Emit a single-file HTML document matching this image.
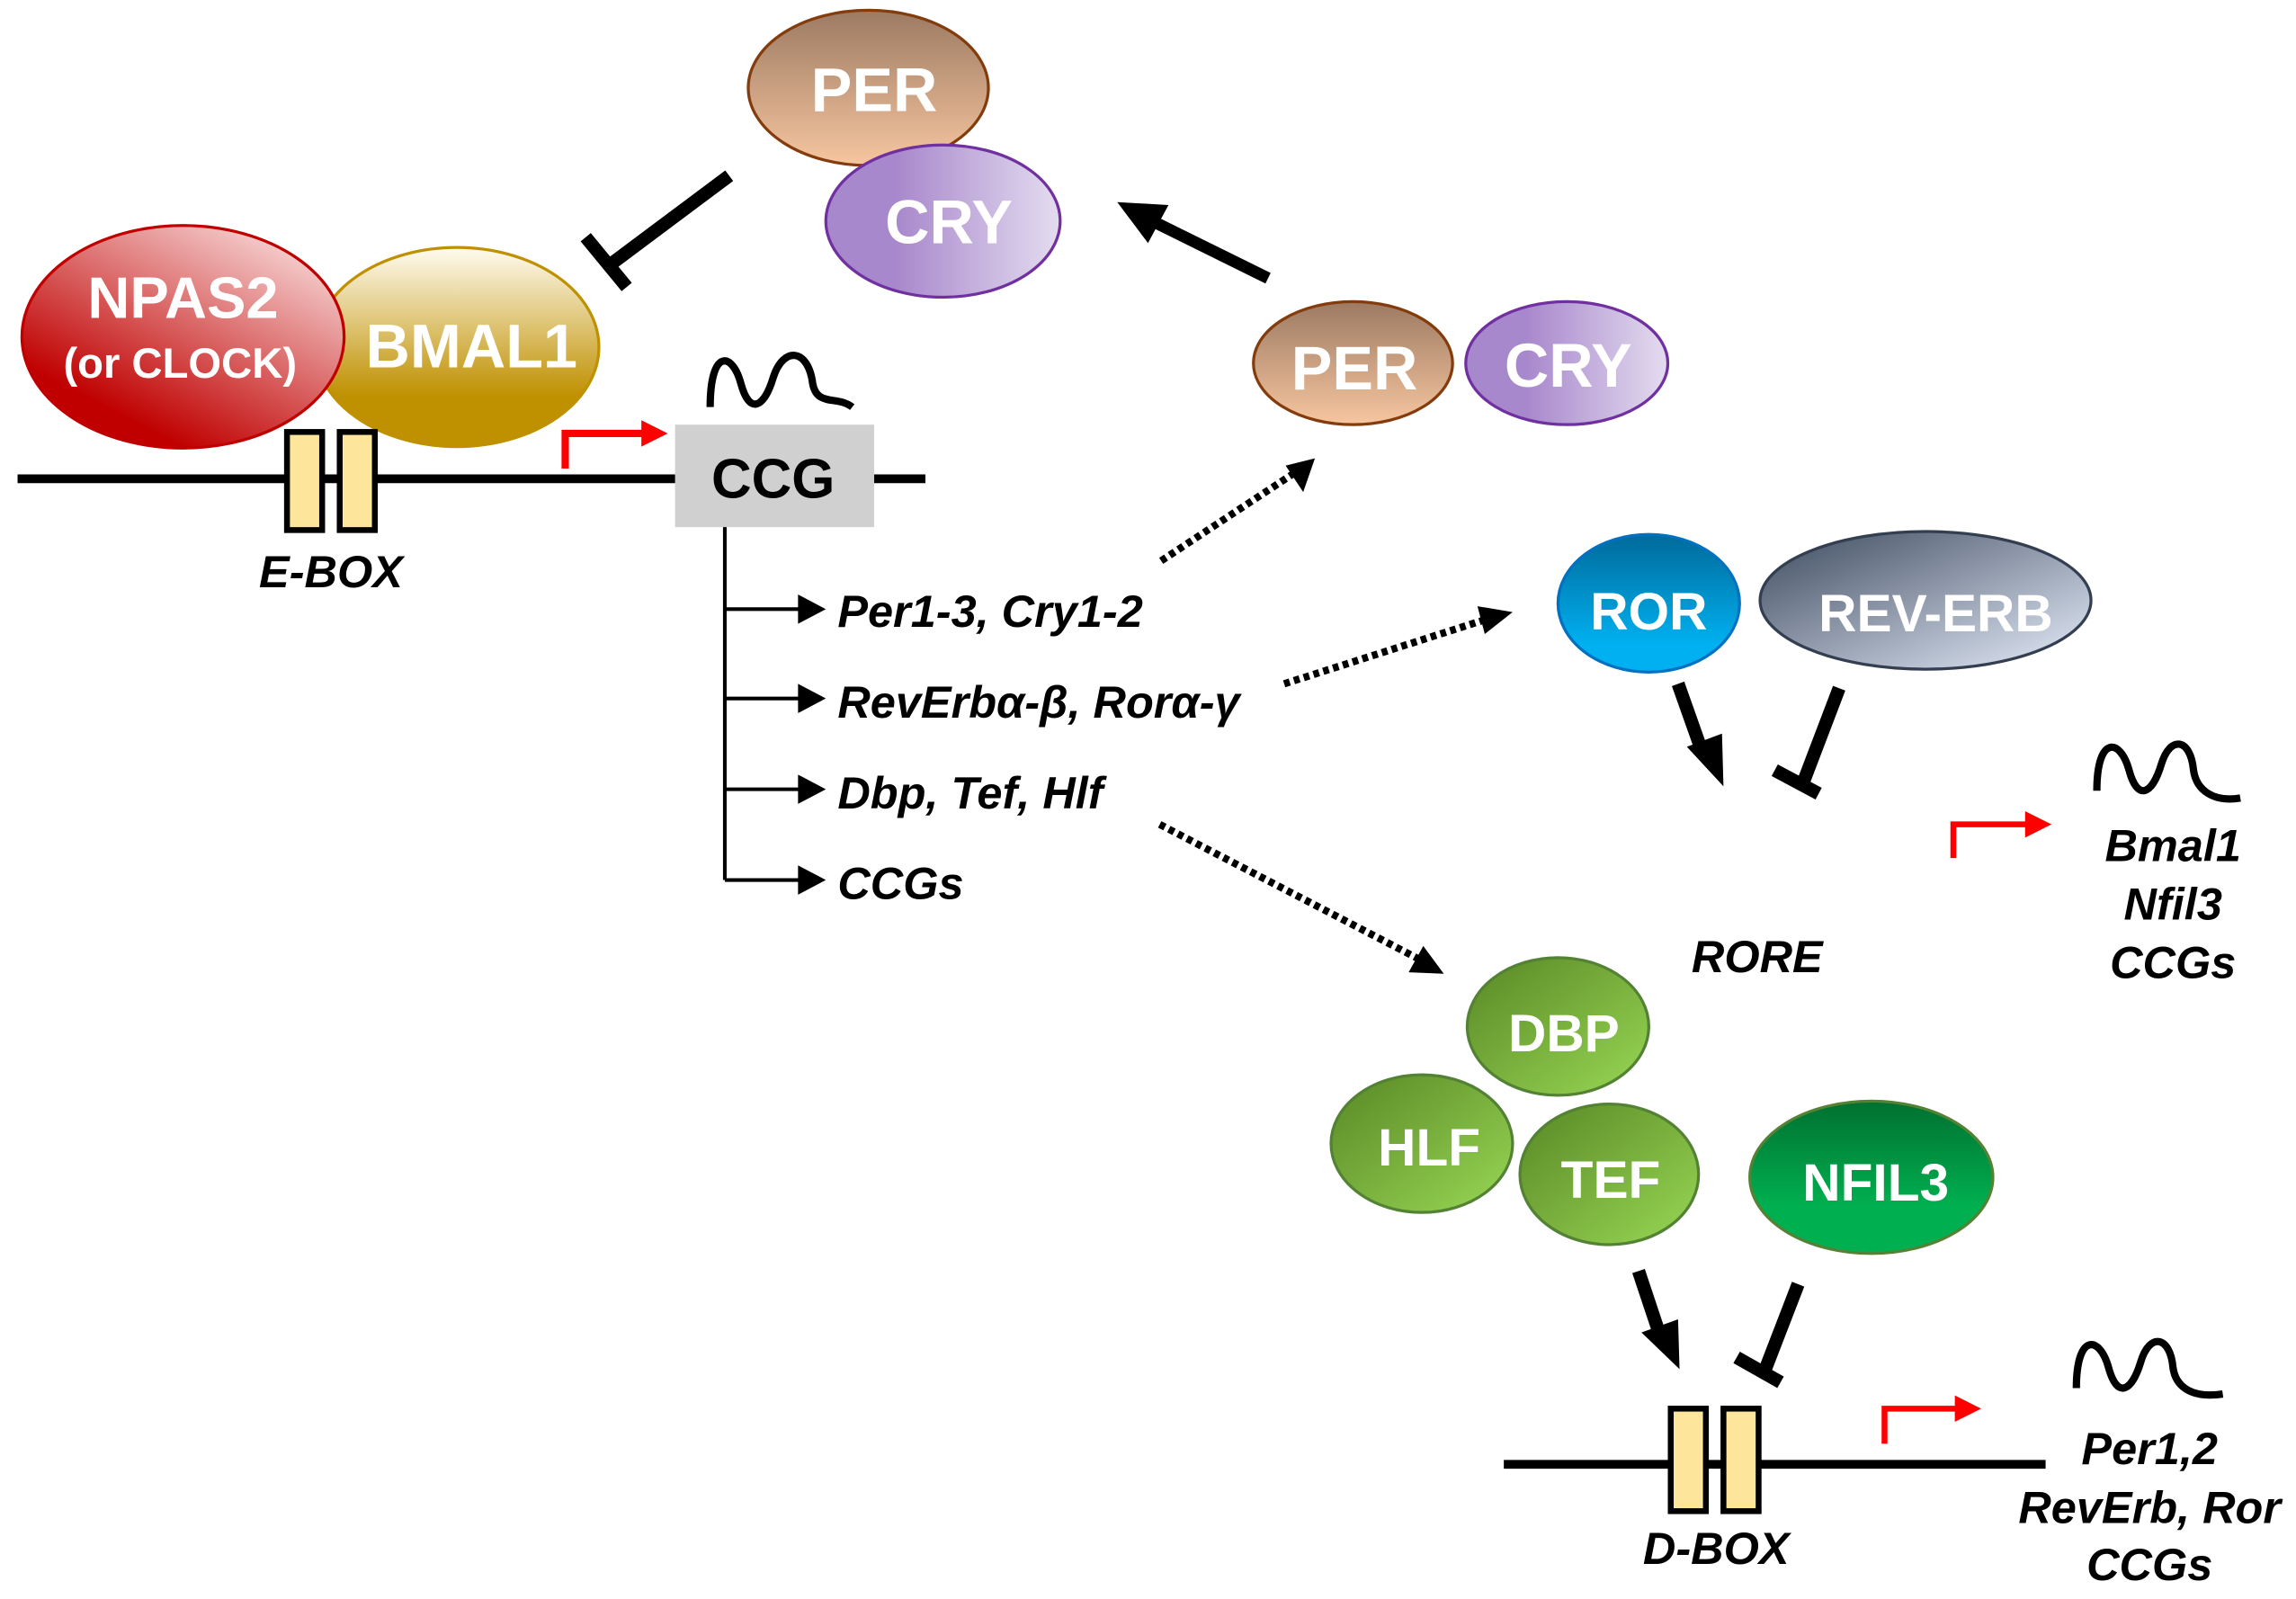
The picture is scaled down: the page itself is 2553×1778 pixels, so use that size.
<!DOCTYPE html>
<html><head><meta charset="utf-8"><style>
html,body{margin:0;padding:0;background:#fff}
svg{display:block}
text{font-family:"Liberation Sans",Arial,sans-serif;font-weight:bold}
.w{fill:#fff;text-anchor:middle}
.i{font-style:italic;fill:#000}
</style></head><body>
<svg width="2553" height="1778" viewBox="0 0 1568 1092" preserveAspectRatio="none" xmlns="http://www.w3.org/2000/svg">
<defs>
<linearGradient id="gPer" x1="0" y1="0" x2="0" y2="1"><stop offset="0" stop-color="#9c7a62"/><stop offset="1" stop-color="#f7c6a0"/></linearGradient>
<linearGradient id="gCry" x1="0" y1="0" x2="1" y2="0"><stop offset="0.3" stop-color="#a888cc"/><stop offset="1" stop-color="#e4dcf0"/></linearGradient>
<linearGradient id="gNp" x1="0.2" y1="0.9" x2="0.8" y2="0.1"><stop offset="0.1" stop-color="#c00000"/><stop offset="1" stop-color="#f4c8c8"/></linearGradient>
<linearGradient id="gBm" x1="0" y1="0" x2="0" y2="1"><stop offset="0" stop-color="#fffbf0"/><stop offset="0.75" stop-color="#bf9000"/></linearGradient>
<linearGradient id="gRor" x1="0" y1="0" x2="0" y2="1"><stop offset="0" stop-color="#006a9a"/><stop offset="0.8" stop-color="#00b0f0"/></linearGradient>
<linearGradient id="gRev" x1="0.1" y1="0.1" x2="0.9" y2="0.9"><stop offset="0" stop-color="#4e5a6e"/><stop offset="1" stop-color="#d6deec"/></linearGradient>
<linearGradient id="gGr" x1="0.1" y1="0.1" x2="0.9" y2="0.9"><stop offset="0" stop-color="#5f8f2a"/><stop offset="1" stop-color="#92d050"/></linearGradient>
<linearGradient id="gNf" x1="0" y1="0" x2="0" y2="1"><stop offset="0" stop-color="#007030"/><stop offset="0.7" stop-color="#00b050"/></linearGradient>
</defs>

<ellipse cx="593" cy="60" rx="82" ry="53" fill="url(#gPer)" stroke="#843c0c" stroke-width="2"/>
<text class="w" x="597" y="76" font-size="42">PER</text>
<ellipse cx="644" cy="151" rx="80" ry="52" fill="url(#gCry)" stroke="#7030a0" stroke-width="2"/>
<text class="w" x="648" y="166" font-size="42">CRY</text>

<line x1="498" y1="120" x2="415" y2="182" stroke="#000" stroke-width="9"/>
<line x1="400" y1="162" x2="428" y2="196" stroke="#000" stroke-width="9"/>

<ellipse cx="312" cy="237" rx="97" ry="68" fill="url(#gBm)" stroke="#bf9000" stroke-width="2"/>
<text class="w" x="322" y="251" font-size="42">BMAL1</text>
<ellipse cx="125" cy="230" rx="110" ry="76" fill="url(#gNp)" stroke="#c00000" stroke-width="2"/>
<text class="w" x="125" y="217" font-size="40">NPAS2</text>
<text class="w" x="123" y="258" font-size="29">(or CLOCK)</text>

<line x1="12" y1="327" x2="632" y2="327" stroke="#000" stroke-width="6"/>
<rect x="196" y="295" width="24" height="67" fill="#fde59c" stroke="#000" stroke-width="4"/>
<rect x="232" y="295" width="24" height="67" fill="#fde59c" stroke="#000" stroke-width="4"/>
<text class="i" x="226" y="401" font-size="31" text-anchor="middle">E-BOX</text>
<path d="M386,320 V296 H440" fill="none" stroke="#ff0000" stroke-width="5"/>
<path d="M438,287 L456,296 L438,305z" fill="#ff0000"/>
<rect x="461" y="290" width="136" height="70" fill="#d0d0d0"/>
<text x="528" y="340" font-size="38" text-anchor="middle" fill="#000">CCG</text>
<path d="M485,278 C485,238 500,240 506,262 C512,284 522,278 528,258 C535,236 552,238 555,262 C558,278 572,270 582,278" fill="none" stroke="#000" stroke-width="5"/>

<path d="M495,360 V601" stroke="#000" stroke-width="2.5" fill="none"/>
<g stroke="#000" stroke-width="2.5">
<line x1="495" y1="416" x2="548" y2="416"/><line x1="495" y1="477" x2="548" y2="477"/>
<line x1="495" y1="539" x2="548" y2="539"/><line x1="495" y1="601" x2="548" y2="601"/>
</g>
<g fill="#000">
<path d="M545,406 L564,416 L545,426z"/><path d="M545,467 L564,477 L545,487z"/>
<path d="M545,529 L564,539 L545,549z"/><path d="M545,591 L564,601 L545,611z"/>
</g>
<text class="i" x="572" y="428" font-size="31">Per1-3, Cry1-2</text>
<text class="i" x="572" y="490" font-size="31">RevErbα-β, Rorα-γ</text>
<text class="i" x="572" y="552" font-size="31">Dbp, Tef, Hlf</text>
<text class="i" x="572" y="614" font-size="31">CCGs</text>

<line x1="866" y1="190" x2="785" y2="150" stroke="#000" stroke-width="8"/>
<path d="M763,138 L798,140 L784,166z" fill="#000"/>

<ellipse cx="924" cy="248" rx="68" ry="42" fill="url(#gPer)" stroke="#843c0c" stroke-width="2"/>
<text class="w" x="925" y="266" font-size="42">PER</text>
<ellipse cx="1070" cy="248" rx="69" ry="42" fill="url(#gCry)" stroke="#7030a0" stroke-width="2"/>
<text class="w" x="1071" y="264" font-size="42">CRY</text>

<g stroke="#000" stroke-width="5" stroke-dasharray="4,3" fill="none">
<line x1="793" y1="383" x2="884" y2="323"/>
<line x1="877" y1="467" x2="1018" y2="422"/>
<line x1="792" y1="563" x2="971" y2="656"/>
</g>
<path d="M898,313 L890,336 L878,318z" fill="#000"/>
<path d="M1033,418 L1014,433 L1009,414z" fill="#000"/>
<path d="M986,665 L962,664 L972,646z" fill="#000"/>

<ellipse cx="1126" cy="412" rx="62" ry="47" fill="url(#gRor)" stroke="#0070c0" stroke-width="2"/>
<text class="w" x="1126" y="430" font-size="36">ROR</text>
<ellipse cx="1315" cy="410" rx="113" ry="47" fill="url(#gRev)" stroke="#333f50" stroke-width="2"/>
<text class="w" x="1322" y="431" font-size="36">REV-ERB</text>
<line x1="1146" y1="467" x2="1163" y2="515" stroke="#000" stroke-width="9"/>
<path d="M1177,537 L1152,510 L1176,501z" fill="#000"/>
<line x1="1256" y1="470" x2="1232" y2="533" stroke="#000" stroke-width="9"/>
<line x1="1212" y1="526" x2="1242" y2="542" stroke="#000" stroke-width="9"/>
<text class="i" x="1200" y="664" font-size="31" text-anchor="middle">RORE</text>
<path d="M1334,586 V563 H1385" fill="none" stroke="#ff0000" stroke-width="4"/>
<path d="M1383,554 L1401,563 L1383,572z" fill="#ff0000"/>
<path d="M1432,540 C1432,502 1448,504 1454,526 C1460,548 1470,542 1476,522 C1482,502 1496,504 1498,526 C1500,540 1512,548 1530,545" fill="none" stroke="#000" stroke-width="5"/>
<text class="i" x="1484" y="588" font-size="31" text-anchor="middle">Bmal1</text>
<text class="i" x="1484" y="628" font-size="31" text-anchor="middle">Nfil3</text>
<text class="i" x="1484" y="668" font-size="31" text-anchor="middle">CCGs</text>

<ellipse cx="1064" cy="701" rx="62" ry="47" fill="url(#gGr)" stroke="#548235" stroke-width="2"/>
<text class="w" x="1068" y="718" font-size="36">DBP</text>
<ellipse cx="971" cy="781" rx="62" ry="47" fill="url(#gGr)" stroke="#548235" stroke-width="2"/>
<text class="w" x="976" y="796" font-size="36">HLF</text>
<ellipse cx="1099" cy="802" rx="61" ry="48" fill="url(#gGr)" stroke="#548235" stroke-width="2"/>
<text class="w" x="1100" y="818" font-size="36">TEF</text>
<ellipse cx="1278" cy="804" rx="83" ry="52" fill="url(#gNf)" stroke="#548235" stroke-width="2"/>
<text class="w" x="1281" y="820" font-size="36">NFIL3</text>

<line x1="1119" y1="868" x2="1133" y2="910" stroke="#000" stroke-width="9"/>
<path d="M1147,935 L1121,910 L1146,901z" fill="#000"/>
<line x1="1228" y1="877" x2="1206" y2="934" stroke="#000" stroke-width="9"/>
<line x1="1186" y1="927" x2="1216" y2="944" stroke="#000" stroke-width="9"/>

<line x1="1027" y1="1000" x2="1397" y2="1000" stroke="#000" stroke-width="6"/>
<rect x="1141" y="962" width="24" height="70" fill="#fde59c" stroke="#000" stroke-width="4"/>
<rect x="1177" y="962" width="24" height="70" fill="#fde59c" stroke="#000" stroke-width="4"/>
<text class="i" x="1172" y="1068" font-size="31" text-anchor="middle">D-BOX</text>
<path d="M1287,986 V962 H1337" fill="none" stroke="#ff0000" stroke-width="4"/>
<path d="M1335,953 L1353,962 L1335,971z" fill="#ff0000"/>
<path d="M1418,948 C1418,910 1434,912 1440,934 C1446,956 1456,950 1462,930 C1468,910 1482,912 1484,934 C1486,948 1498,955 1518,952" fill="none" stroke="#000" stroke-width="5"/>
<text class="i" x="1468" y="1000" font-size="31" text-anchor="middle">Per1,2</text>
<text class="i" x="1468" y="1040" font-size="31" text-anchor="middle">RevErb, Ror</text>
<text class="i" x="1468" y="1079" font-size="31" text-anchor="middle">CCGs</text>
</svg>
</body></html>
